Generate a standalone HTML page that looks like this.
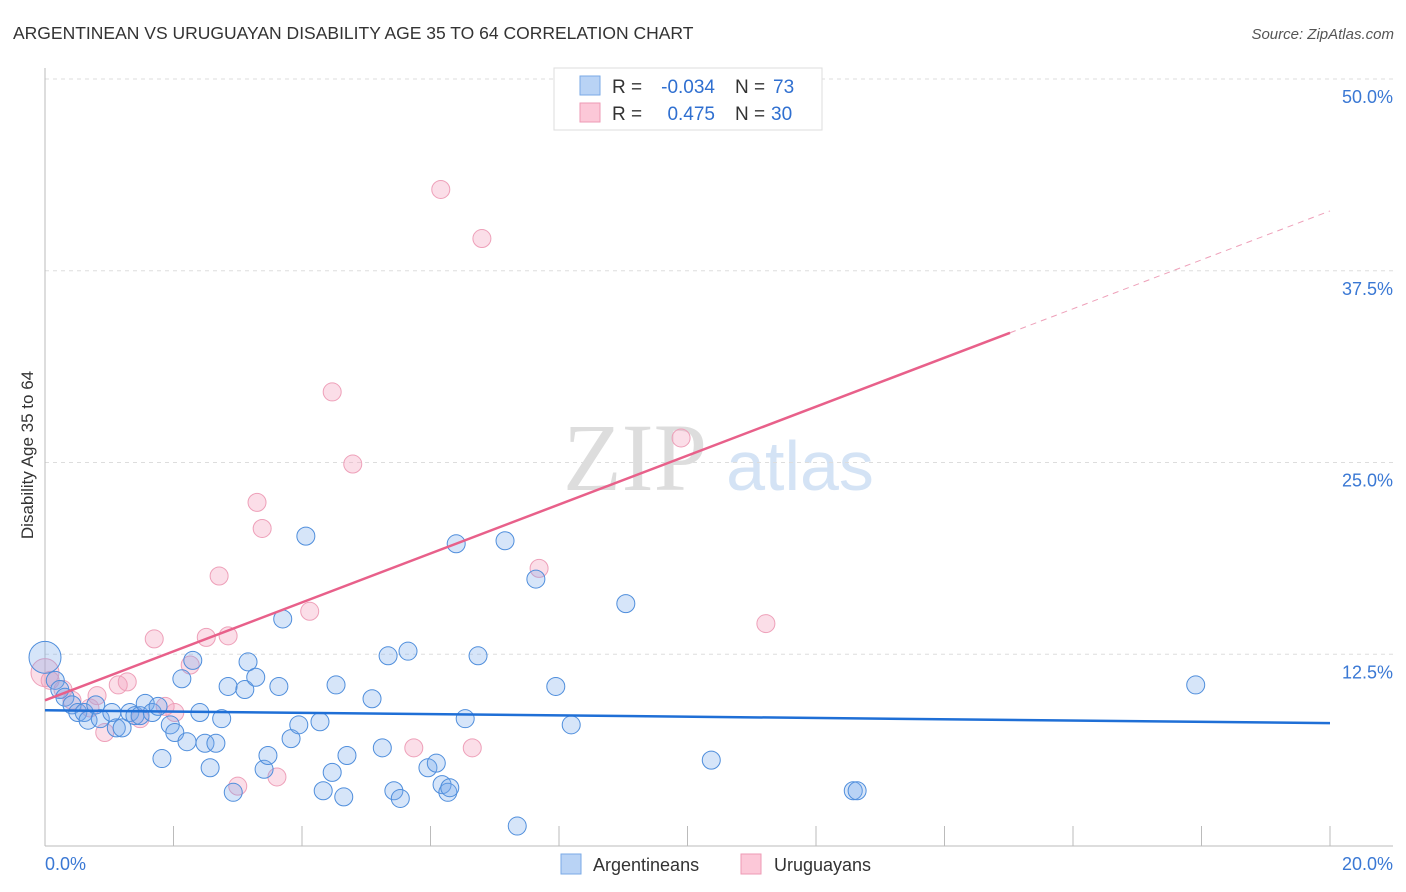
<!DOCTYPE html>
<html><head><meta charset="utf-8"><style>
body{margin:0;background:#fff;font-family:"Liberation Sans",sans-serif}
svg{display:block}
</style></head><body>
<svg id="chart" width="1406" height="892">
<text x="13" y="39" font-size="17.5" fill="#333">ARGENTINEAN VS URUGUAYAN DISABILITY AGE 35 TO 64 CORRELATION CHART</text>
<text x="1394" y="39" font-size="15" fill="#555" font-style="italic" text-anchor="end">Source: ZipAtlas.com</text>
<text transform="translate(33,455) rotate(-90)" font-size="17" fill="#333" text-anchor="middle">Disability Age 35 to 64</text>
<g>
<text x="635" y="490" font-size="96" font-family="Liberation Serif,serif" fill="#ddd" text-anchor="middle">ZIP</text>
<text x="800" y="490" font-size="70" fill="#d4e3f5" text-anchor="middle">atlas</text>
</g>
<g id="grid"></g><g id="axes"></g><g id="marks"></g>
<g>
<rect x="554" y="68" width="268" height="62" fill="#fff" stroke="#ddd"/>
<rect x="580" y="76" width="20" height="19" fill="#b9d3f5" stroke="#7aa9e6"/>
<rect x="580" y="103" width="20" height="19" fill="#fcc8d8" stroke="#ee9ab4"/>
<text x="612" y="93" font-size="19" fill="#333">R =</text>
<text x="715" y="93" font-size="19" fill="#2f6fd0" text-anchor="end">-0.034</text>
<text x="735" y="93" font-size="19" fill="#333">N =</text>
<text x="773" y="93" font-size="19" fill="#2f6fd0">73</text>
<text x="612" y="120" font-size="19" fill="#333">R =</text>
<text x="715" y="120" font-size="19" fill="#2f6fd0" text-anchor="end">0.475</text>
<text x="735" y="120" font-size="19" fill="#333">N =</text>
<text x="771" y="120" font-size="19" fill="#2f6fd0">30</text>
</g>
<g>
<rect x="561" y="854" width="20" height="20" fill="#b9d3f5" stroke="#7aa9e6"/>
<text x="593" y="871" font-size="18" fill="#333">Argentineans</text>
<rect x="741" y="854" width="20" height="20" fill="#fcc8d8" stroke="#ee9ab4"/>
<text x="774" y="871" font-size="18" fill="#333">Uruguayans</text>
</g>
</svg>
<script>
const yTicks=[12.5,25,37.5,50];
const yTickLabels=["12.5%","25.0%","37.5%","50.0%"];
const xTickLabels=["0.0%","20.0%"];
const argX=[0,.16,.23,.31,.42,.51,.61,.67,.79,.86,1.04,1.11,1.20,1.32,1.40,1.48,1.56,1.67,1.76,1.82,1.95,2.02,2.13,2.21,2.30,2.41,2.49,2.57,2.66,2.75,2.85,2.93,3.11,3.16,3.28,3.41,3.47,3.64,3.70,3.83,3.95,4.06,4.28,4.33,4.47,4.53,4.65,4.70,5.09,5.25,5.34,5.43,5.53,5.65,5.96,6.09,6.18,6.27,6.30,6.40,6.54,6.74,7.16,7.35,7.64,7.95,8.19,9.04,10.37,12.58,12.64,17.91];
const argY=[12.3,10.8,10.2,9.7,9.2,8.7,8.7,8.2,9.2,8.3,8.7,7.7,7.7,8.7,8.5,8.5,9.3,8.7,9.1,5.7,7.9,7.4,10.9,6.8,12.1,8.7,6.7,5.1,6.7,8.3,10.4,3.5,10.2,12.0,11.0,5.0,5.9,10.4,14.8,7.0,7.9,20.2,8.1,3.6,4.8,10.5,3.2,5.9,9.6,6.4,12.4,3.6,3.1,12.7,5.1,5.4,4.0,3.5,3.8,19.7,8.3,12.4,19.9,1.3,17.4,10.4,7.9,15.8,5.6,3.6,3.6,10.5];
const uruX=[0,.08,.28,.42,.70,.81,.93,1.14,1.28,1.48,1.70,1.87,2.02,2.26,2.51,2.71,2.85,3.00,3.30,3.38,3.61,4.12,4.47,4.79,5.74,6.16,6.65,6.80,7.69,9.90,11.22];
const uruY=[11.3,10.8,10.2,9.5,9.0,9.8,7.4,10.5,10.7,8.3,13.5,9.1,8.7,11.8,13.6,17.6,13.7,3.9,22.4,20.7,4.5,15.3,29.6,24.9,6.4,42.8,6.4,39.6,18.1,26.6,14.5];
const argTrend=[8.85,8.01];
const uruTrend=[9.5,41.4];
const uruSolidEnd=15.02;

const NS="http://www.w3.org/2000/svg";
const X0=45,X1=1330,Y0=846,YTOP=79;
const sx=v=>X0+(v/20)*(X1-X0);
const sy=v=>Y0-(v/50)*(Y0-YTOP);
function mk(parent,tag,attrs){const e=document.createElementNS(NS,tag);for(const k in attrs)e.setAttribute(k,attrs[k]);document.getElementById(parent).appendChild(e);return e;}
yTicks.forEach((t,i)=>{
  const g=mk('grid','line',{x1:X0,x2:1393,y1:sy(t),y2:sy(t),stroke:'#ddd','stroke-dasharray':'4,4'});
  
  
  const l=mk('grid','text',{x:1393,y:sy(t)+24,'font-size':18,fill:'#3a78d4','text-anchor':'end'});
  l.textContent=yTickLabels[i];
  
  
});
const ya=mk('axes','line',{x1:X0,x2:X0,y1:68,y2:Y0,stroke:'#bbb'});


const xa=mk('axes','line',{x1:X0,x2:1393,y1:Y0,y2:Y0,stroke:'#bbb'});


for(let i=1;i<=10;i++){
  const t=mk('axes','line',{x1:sx(i*2),x2:sx(i*2),y1:826,y2:Y0,stroke:'#bbb'});
  
  
}
[[0,'start',45],[20,'end',1393]].forEach((d,i)=>{
  const l=mk('axes','text',{x:d[2],y:870,'font-size':18,fill:'#3a78d4','text-anchor':d[1]});
  l.textContent=xTickLabels[i];
  
  
});
uruX.forEach((x,i)=>{
  const c=mk('marks','circle',{cx:sx(x),cy:sy(uruY[i]),r:i==0?14:9,fill:'rgba(244,160,188,0.35)',stroke:'#eea0b9','stroke-width':1});
  
  
});
argX.forEach((x,i)=>{
  const c=mk('marks','circle',{cx:sx(x),cy:sy(argY[i]),r:i==0?16:9,fill:'rgba(120,170,235,0.3)',stroke:'#4f8edc','stroke-width':1});
  
  
});
const bl=mk('marks','line',{x1:sx(0),y1:sy(argTrend[0]),x2:sx(20),y2:sy(argTrend[1]),stroke:'#1f6fd6','stroke-width':2.5});


const slope=(uruTrend[1]-uruTrend[0])/20;
const pl=mk('marks','line',{x1:sx(0),y1:sy(uruTrend[0]),x2:sx(uruSolidEnd),y2:sy(uruTrend[0]+slope*uruSolidEnd),stroke:'#e8608a','stroke-width':2.5});


const pd=mk('marks','line',{x1:sx(uruSolidEnd),y1:sy(uruTrend[0]+slope*uruSolidEnd),x2:sx(20),y2:sy(uruTrend[1]),stroke:'#eea0b9','stroke-width':1,'stroke-dasharray':'6,5'});


</script>
</body></html>
